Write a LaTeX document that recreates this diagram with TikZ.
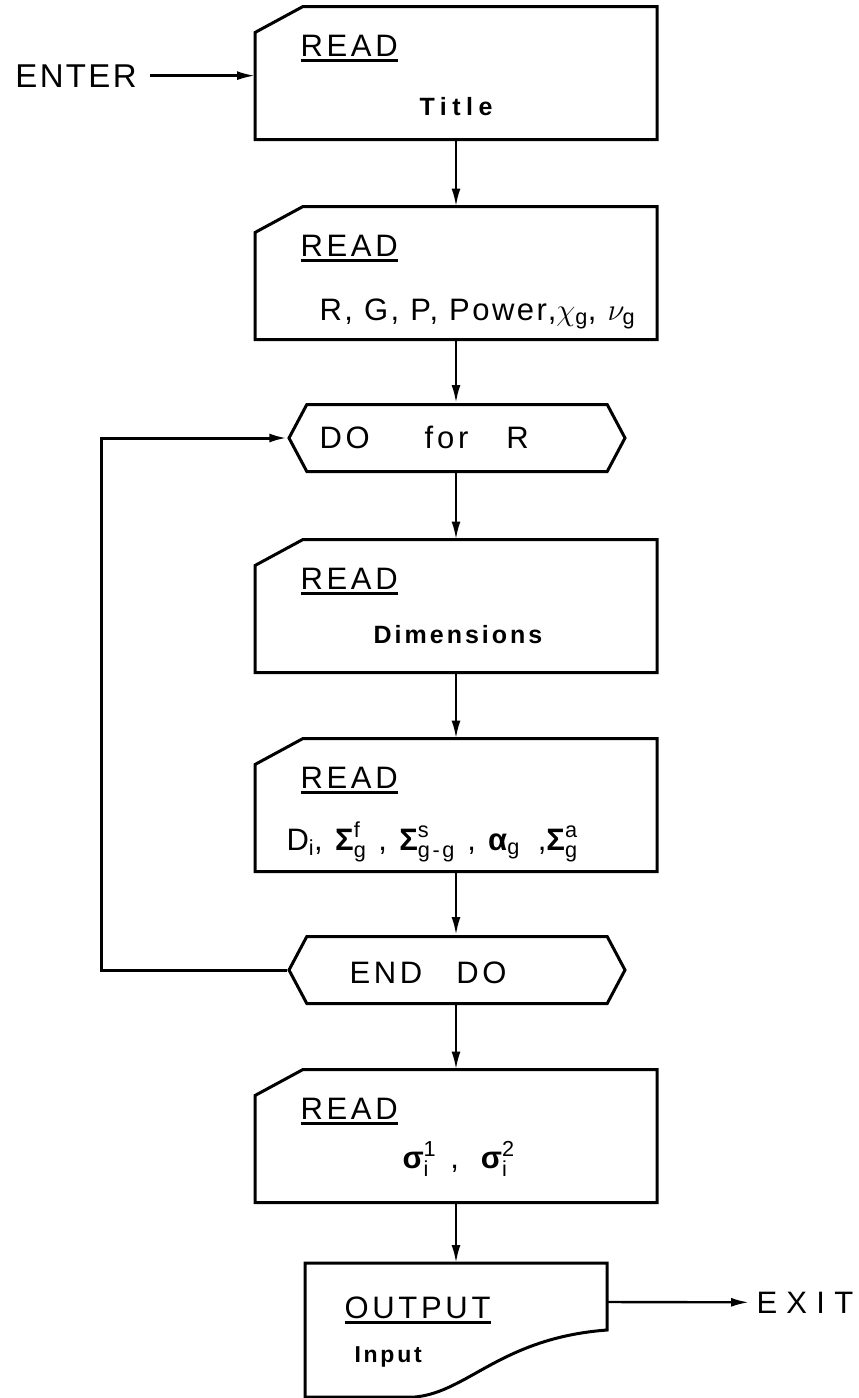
\documentclass[tikz,border=0pt]{standalone}
\usepackage{fix-cm}
\usepackage{amsmath}
\usepackage{fontspec}
\setmainfont{Liberation Sans}[LetterSpace=12]
\usetikzlibrary{arrows.meta,shapes.symbols}
\newcommand\headword[1]{\setbox0=\hbox{#1}\rlap{\rule[-5.5pt]{\wd0}{3pt}}\box0}
\newcommand\bsym[1]{\text{\bfseries #1}}

\begin{document}
\begin{tikzpicture}[x=1pt, y=-1pt, line width=3pt,
  card/.style={minimum width=399pt, minimum height=130pt, inner sep=0pt},
  hexa/.style={draw, signal, signal to=west and east, signal pointer angle=124, minimum width=336pt, minimum height=67pt, inner sep=0pt},
  flow/.style={-{Latex[length=18pt,width=9pt]}, line width=2.4pt},
  big/.style={inner sep=0pt, anchor=base west, font=\fontsize{31}{36}\selectfont},
  mid/.style={inner sep=0pt, anchor=base, font=\fontsize{25}{30}\selectfont\bfseries}]
  \useasboundingbox (0,0) rectangle (859,1398);

  \node[card] (title) at (456,73) {};
  \node[card] (param) at (456,273) {};
  \node[hexa] (dofor) at (457,438) {};
  \node[card] (dims)  at (456,606) {};
  \node[card] (xsec)  at (456,805) {};
  \node[hexa] (enddo) at (457,970) {};
  \node[card] (flux)  at (456,1136) {};
  \node[inner sep=0pt, minimum width=299pt, minimum height=131pt] (output) at (456,1330) {};

  \foreach \b in {title,param,dims,xsec,flux} {
    \draw ([yshift=-26pt]\b.north west) -- ([xshift=48pt]\b.north west) -- (\b.north east)
      -- (\b.south east) -- (\b.south west) -- cycle;
    \node[big] (\b-head) at ([xshift=44pt,yshift=-50pt]\b.north west) {\headword{READ}};
  }
  \draw (output.north west) -- (output.north east) -- (output.east)
    .. controls ([xshift=-106pt,yshift=-8pt]output.east) and ([xshift=163pt,yshift=5pt]output.south west)
    .. ([xshift=110pt]output.south west) -- (output.south west) -- cycle;

  \node[big, font=\fontsize{33}{38}\selectfont] (enter) at (14,87) {\addfontfeatures{LetterSpace=7}ENTER};
  \node[mid] (titletxt) at (456,115) {\addfontfeatures{LetterSpace=22}Title};
  \node[big] (paramtxt) at (318,320) {\addfontfeatures{LetterSpace=8}R, G, P, Power,$\chi_{\text{g}}$, $\nu_{\text{g}}$};
  \node[big] (dofortxt) at (318,448) {DO\hspace{55pt}for\hspace{38pt}R};
  \node[mid] (dimstxt) at (458,643) {Dimensions};
  \node[big] (xsectxt) at (285,850) {D$_{\text{i}}$, $\bsym{Σ}^{\text{f}}_{\text{g}}$\hspace{12pt}, $\bsym{Σ}^{\text{s}}_{\text{g-g}}$ , $\bsym{α}_{\text{g}}$\hspace{18pt},$\bsym{Σ}^{\text{a}}_{\text{g}}$};
  \node[big] (endtxt) at (348,983) {END\hspace{34pt}DO};
  \node[big] (fluxtxt) at (401,1168) {$\bsym{σ}^{\text{1}}_{\text{i}}$\hspace{14pt},\hspace{22pt}$\bsym{σ}^{\text{2}}_{\text{i}}$};
  \node[big] (outtxt) at (343,1318) {\headword{OUTPUT}};
  \node[mid, anchor=base west, font=\fontsize{23}{28}\selectfont\bfseries] (intxt) at (353,1362) {Input};
  \node[big] (exit) at (755,1313) {\addfontfeatures{LetterSpace=30}EXIT};

  \draw[flow, shorten <=12pt] (enter.east) -- (enter.east -| title.west);
  \draw[flow] (title) -- (param);
  \draw[flow] (param) -- (param.south |- dofor.north);
  \draw[flow] (param.south |- dofor.south) -- (dims);
  \draw[flow] (dims) -- (xsec);
  \draw[flow] (xsec) -- (xsec.south |- enddo.north);
  \draw[flow] (xsec.south |- enddo.south) -- (flux);
  \draw[flow] (flux) -- (output);
  \draw[flow, line width=3pt] (enddo.west) -- ++(-186,0) |- (dofor.west);
  \draw[flow, shorten >=6pt] ([yshift=28pt]output.east) -- (exit.west);
\end{tikzpicture}
\end{document}
